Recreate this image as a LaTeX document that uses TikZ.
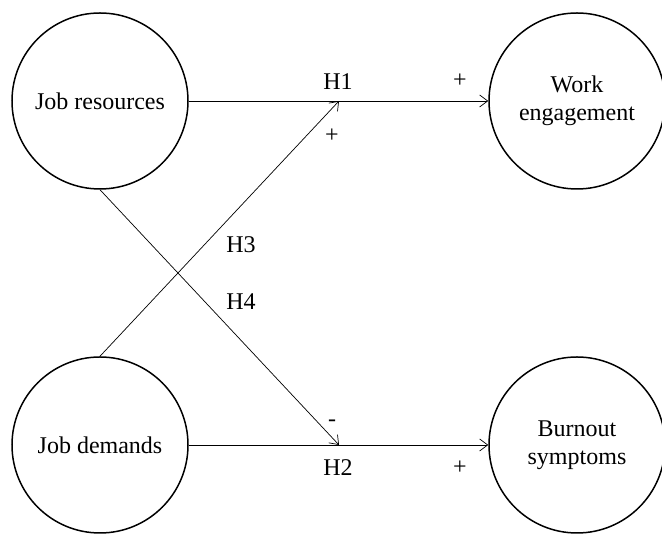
\documentclass[tikz,border=0pt]{standalone}
\usepackage{fontspec}
\setmainfont{Liberation Serif}
\usetikzlibrary{arrows.meta}
\tikzset{
    x=1pt, y=1pt,
    every node/.style={
        align=center,
        font=\fontsize{24}{28}\selectfont,
    },
    factor/.style={         % style for the four circles
        draw,
        circle,
        line width=1.5pt,
        minimum size=176pt,
        inner sep=0pt
    },
    link/.style={           % style for all arrows
        draw,
        line width=0.7pt,
        -{Straight Barb[length=8pt, width=12pt, line width=0.7pt]}
    }
}
\begin{document}
\begin{tikzpicture}
                \useasboundingbox (0,0) rectangle (662,534);
                \node[factor] (res) at (100,433) {Job resources};
                \node[factor] (eng) at (577,433) {Work\\engagement};
                \node[factor] (dem) at (100,89) {Job demands};
                \node[factor] (burn) at (577,89) {Burnout\\symptoms};
                \coordinate (top) at (339,433);
                \coordinate (bot) at (339,89);
                \draw[link] (res) -- (eng);
                \draw[link] (dem) -- (burn);
                \draw[link] (dem.north) -- (top);
                \draw[link] (res.south) -- (bot);
                \node (h1) at (338,452) {H1};
                \node (p1) at (460,453) {+};
                \node (p3) at (332,398) {+};
                \node (h3) at (241,289) {H3};
                \node (h4) at (241,232) {H4};
                \node (m4) at (332,111) {-};
                \node (h2) at (338,66) {H2};
                \node (p2) at (460,66) {+};
            \end{tikzpicture}
\end{document}
